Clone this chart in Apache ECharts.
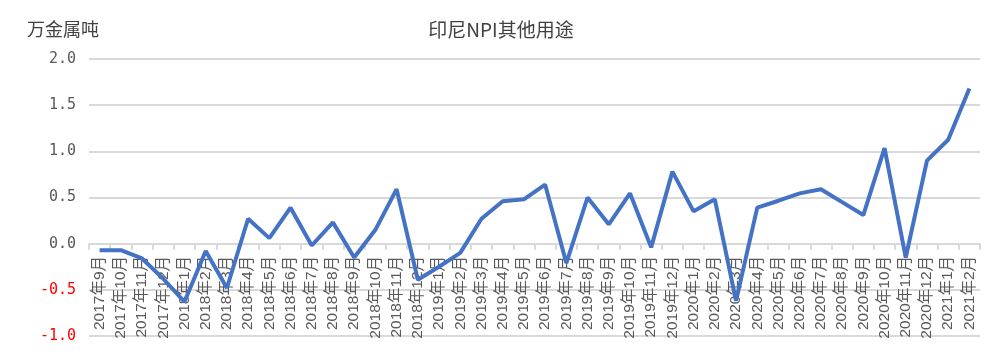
<!DOCTYPE html>
<html>
<head>
<meta charset="utf-8">
<script src="https://cdn.jsdelivr.net/npm/echarts@6/dist/echarts.min.js"></script>
<style>html,body{margin:0;padding:0;background:#fff}#c{width:1002px;height:362px}</style>
</head>
<body>
<div id="c"></div>
<script>
const categories = [
  "2017年9月","2017年10月","2017年11月","2017年12月",
  "2018年1月","2018年2月","2018年3月","2018年4月","2018年5月","2018年6月","2018年7月","2018年8月","2018年9月","2018年10月","2018年11月","2018年12月",
  "2019年1月","2019年2月","2019年3月","2019年4月","2019年5月","2019年6月","2019年7月","2019年8月","2019年9月","2019年10月","2019年11月","2019年12月",
  "2020年1月","2020年2月","2020年3月","2020年4月","2020年5月","2020年6月","2020年7月","2020年8月","2020年9月","2020年10月","2020年11月","2020年12月",
  "2021年1月","2021年2月"
];
const otherUse = [
  -0.07, -0.07, -0.16, -0.38,
  -0.63, -0.08, -0.48, 0.27, 0.06, 0.39, -0.02, 0.23, -0.15, 0.15, 0.59, -0.39,
  -0.25, -0.10, 0.27, 0.46, 0.48, 0.64, -0.21, 0.50, 0.21, 0.545, -0.04, 0.78,
  0.35, 0.48, -0.62, 0.39, 0.465, 0.545, 0.59, 0.45, 0.31, 1.035, -0.15, 0.90,
  1.125, 1.68
];
const yTicks = { min: -1, max: 2, interval: 0.5 };
const titleText = "印尼NPI其他用途";
const unitText = "万金属吨";

const font = "'Liberation Sans', 'Noto Sans CJK SC', sans-serif";
const monoFont = "'DejaVu Sans Mono', monospace";
const cjkFont = "'Noto Sans CJK SC', sans-serif";
const chart = echarts.init(document.getElementById('c'));
chart.setOption({
  animation: false,
  backgroundColor: '#fff',
  title: [
    { text: titleText, left: 'center', top: 15, textStyle: { fontSize: 19, fontWeight: 'normal', color: '#404040', fontFamily: cjkFont } },
    { text: unitText, left: 22, top: 15, textStyle: { fontSize: 18, fontWeight: 'normal', color: '#404040', fontFamily: cjkFont } }
  ],
  grid: { left: 89, right: 22, top: 59, bottom: 26, containLabel: false, outerBoundsMode: 'none' },
  xAxis: {
    type: 'category',
    data: categories,
    boundaryGap: true,
    axisLine: { onZero: true, lineStyle: { color: '#d9d9d9', width: 2 } },
    axisTick: { show: true, alignWithLabel: false, length: 6, lineStyle: { color: '#d9d9d9', width: 2 } },
    axisLabel: { interval: 0, rotate: 90, margin: -80, fontSize: 15.5, color: '#595959', fontFamily: font },
    splitLine: { show: false }
  },
  yAxis: {
    type: 'value',
    min: yTicks.min, max: yTicks.max, interval: yTicks.interval,
    axisLine: { show: false },
    axisTick: { show: false },
    axisLabel: {
      margin: 13, fontSize: 15, fontFamily: monoFont, color: '#595959',
      formatter: v => (Number(v) < 0 ? '{neg|' + Number(v).toFixed(1) + '}' : Number(v).toFixed(1)),
      rich: { neg: { color: '#ff0000', fontSize: 15, fontFamily: monoFont } }
    },
    splitLine: { lineStyle: { color: '#d9d9d9', width: 2 } }
  },
  series: [{
    type: 'line',
    data: otherUse,
    symbol: 'none',
    lineStyle: { color: '#4472C4', width: 4 },
    itemStyle: { color: '#4472C4' }
  }]
});
</script>
</body>
</html>
